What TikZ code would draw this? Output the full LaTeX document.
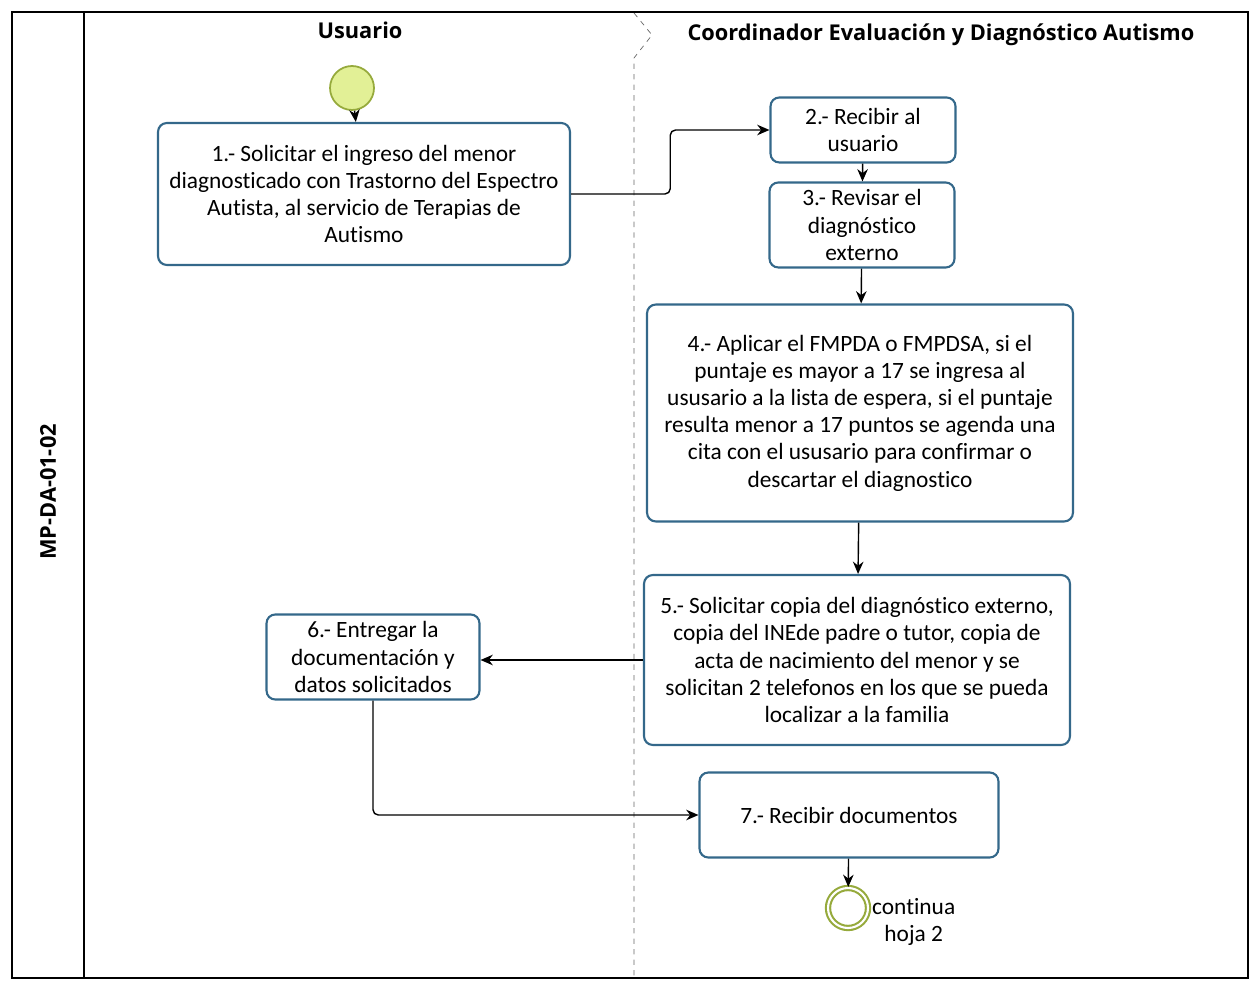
\documentclass[tikz,border=0pt]{standalone}
\usepackage{fontspec}
\setmainfont{Carlito}[Ligatures=NoCommon]
\newfontfamily\headfont{Open Sans}
\usepackage{tikz}
\usetikzlibrary{calc,arrows.meta}
\definecolor{taskline}{RGB}{52,104,138}
\definecolor{startfill}{RGB}{226,240,150}
\definecolor{eventline}{RGB}{150,170,60}
\tikzset{>={Stealth[length=7pt,width=6pt]},
    task/.style={draw=taskline, fill=white, line width=1.2pt, rounded corners=5pt, align=center,
        font=\fontsize{13.3}{15.5}\selectfont},
    startev/.style={circle, draw=eventline, fill=startfill, line width=1pt, minimum size=0.88cm},
    endev/.style={circle, draw=eventline, double=white, double distance=1.2pt, line width=1.2pt, minimum size=0.8cm},
    flow/.style={->, line width=0.8pt},
    lanetitle/.style={font=\headfont\bfseries\fontsize{12.4}{14}\selectfont}}
\begin{document}
\begin{tikzpicture}[x=0.02cm, y=-0.02cm]
    \useasboundingbox (0,0) rectangle (1254,982);
    \draw[thick] (12,12) rectangle (1248,978);
    \draw[thick] (84,12) -- (84,978);
    \draw[dashed, gray!80!black] (634,13) -- (652,35) -- (634,58) -- (634,978);
    \node[lanetitle, rotate=90] at (48,492) (pool) {MP-DA-01-02};
    \node[lanetitle] at (360,30) (lane1) {Usuario};
    \node[lanetitle] at (941,35) (lane2) {Coordinador Evaluación y Diagnóstico Autismo};
    \node[startev] at (352,88) (start) {};
    \node[task, minimum width=8.24cm, minimum height=2.84cm] at (364,194) (t1)
        {1.- Solicitar el ingreso del menor\\ diagnosticado con Trastorno del Espectro\\ Autista, al servicio de Terapias de\\ Autismo};
    \node[task, minimum width=3.7cm, minimum height=1.3cm] at (863,130) (t2) {2.- Recibir al\\ usuario};
    \node[task, minimum width=3.7cm, minimum height=1.7cm] at (862,225) (t3) {3.- Revisar el\\ diagnóstico\\ externo};
    \node[task, minimum width=8.52cm, minimum height=4.34cm] at (860,413) (t4)
        {4.- Aplicar el FMPDA o FMPDSA, si el\\ puntaje es mayor a 17 se ingresa al\\ ususario a la lista de espera, si el puntaje\\
         resulta menor a 17 puntos se agenda una\\ cita con el ususario para confirmar o\\ descartar el diagnostico};
    \node[task, minimum width=8.52cm, minimum height=3.4cm] at (857,660) (t5)
        {5.- Solicitar copia del diagnóstico externo,\\ copia del INEde padre o tutor, copia de\\ acta de nacimiento del menor y se\\
         solicitan 2 telefonos en los que se pueda\\ localizar a la familia};
    \node[task, minimum width=4.26cm, minimum height=1.7cm] at (373,657) (t6) {6.- Entregar la\\ documentación y\\ datos solicitados};
    \node[task, minimum width=5.98cm, minimum height=1.7cm] at (849,815) (t7) {7.- Recibir documentos};
    \node[endev] at (848,908) (stop) {};
    \node[align=center, font=\fontsize{13.3}{15.5}\selectfont, anchor=west] at (866,922) (stoplbl) {continua\\ hoja 2};
    \draw[flow] (start) -- (t1);
    \draw[flow, rounded corners=3pt] (t1.east) -| ($(t1.east)!0.5!(t2.west)$) |- (t2.west);
    \draw[flow] (t2) -- (t3);
    \draw[flow] (t3) -- (t4);
    \draw[flow] (t4) -- (t5);
    \draw[flow] (t5.west) -- (t5.west -| t6.east);
    \draw[flow, rounded corners=3pt] (t6.south) |- (t7.west);
    \draw[flow] (t7) -- (stop);
\end{tikzpicture}
\end{document}
